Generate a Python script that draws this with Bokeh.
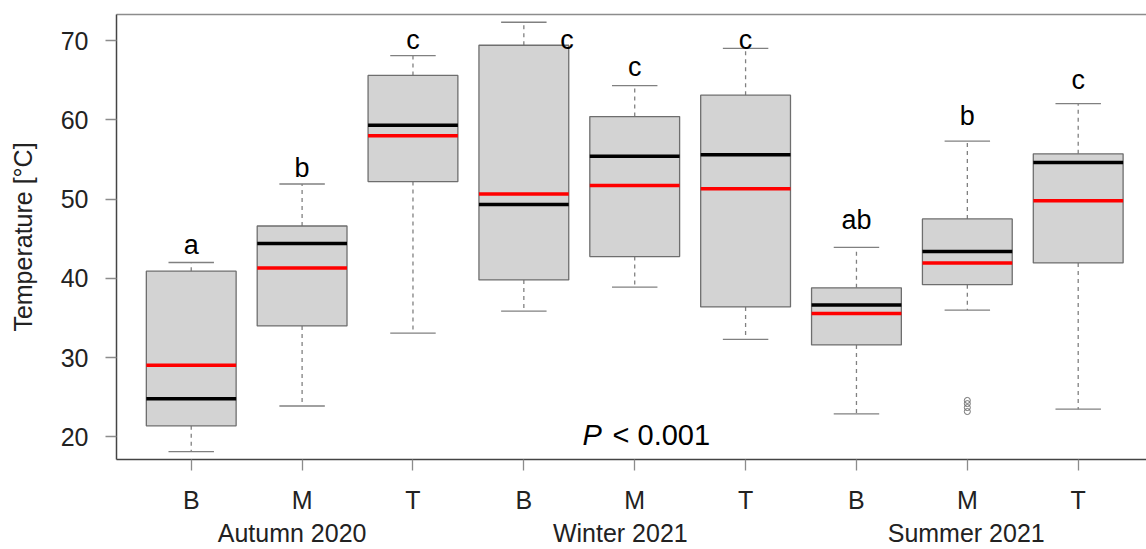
from bokeh.plotting import figure
from bokeh.models import Range1d, LinearAxis, FixedTicker, ColumnDataSource, Label
from bokeh.core.properties import value
from bokeh.embed import file_html
from bokeh.resources import INLINE

# ---- data ----
positions = [1, 2, 3, 4, 5, 6, 7, 8, 9]
site_labels = ["B", "M", "T", "B", "M", "T", "B", "M", "T"]
season_labels = ["Autumn 2020", "Winter 2021", "Summer 2021"]
season_pos = [1.91, 4.87, 7.99]

whisker_low = [18.15, 23.9, 33.1, 35.86, 38.9, 32.3, 22.9, 36.0, 23.5]
q1 = [21.4, 34.0, 52.2, 39.8, 42.75, 36.4, 31.6, 39.2, 41.95]
median = [24.8, 44.4, 59.3, 49.3, 55.4, 55.6, 36.65, 43.4, 54.6]
mean = [29.05, 41.3, 58.0, 50.65, 51.7, 51.3, 35.55, 41.95, 49.8]
q3 = [40.9, 46.6, 65.6, 69.4, 60.4, 63.1, 38.8, 47.5, 55.7]
whisker_high = [42.0, 51.9, 68.1, 72.3, 64.3, 69.0, 43.9, 57.3, 62.05]

letters = ["a", "b", "c", "c", "c", "c", "ab", "b", "c"]
letter_x = [1, 2, 3, 4.39, 5, 6, 7, 8, 9]
letter_y = [44.2, 53.9, 70.1, 70.1, 66.7, 70.1, 47.3, 60.5, 65.0]

outlier_x = [8, 8, 8, 8]
outlier_y = [24.6, 24.2, 23.7, 23.2]

y_ticks = [20, 30, 40, 50, 60, 70]

BOX_W = 0.81
CAP_W = 0.41
FONT = "Liberation Sans"

p = figure(width=1146, height=549, output_backend="svg", toolbar_location=None,
           x_range=Range1d(0.326, 9.616), y_range=Range1d(17.15, 73.28),
           min_border_left=116, min_border_top=14, min_border_right=0, min_border_bottom=90)
p.outline_line_color = None
p.grid.visible = False
p.background_fill_color = "white"

src = ColumnDataSource(dict(
    x=positions, lo=whisker_low, q1=q1, med=median, mean=mean, q3=q3, hi=whisker_high,
    xl=[x - BOX_W / 2 for x in positions], xr=[x + BOX_W / 2 for x in positions],
    cl=[x - CAP_W / 2 for x in positions], cr=[x + CAP_W / 2 for x in positions],
))

# whiskers (dashed)
p.segment(x0="x", y0="q3", x1="x", y1="hi", source=src, line_color="#808080",
          line_width=1.3, line_dash="4 4")
p.segment(x0="x", y0="q1", x1="x", y1="lo", source=src, line_color="#808080",
          line_width=1.3, line_dash="4 4")
# caps
p.segment(x0="cl", y0="hi", x1="cr", y1="hi", source=src, line_color="#808080", line_width=1.3)
p.segment(x0="cl", y0="lo", x1="cr", y1="lo", source=src, line_color="#808080", line_width=1.3)
# boxes
p.vbar(x="x", width=BOX_W, top="q3", bottom="q1", source=src,
       fill_color="#D3D3D3", line_color="#6E6E6E", line_width=1.3)
# median and mean
p.segment(x0="xl", y0="med", x1="xr", y1="med", source=src, line_color="black", line_width=3.5)
p.segment(x0="xl", y0="mean", x1="xr", y1="mean", source=src, line_color="#FF0000", line_width=3.5)

# outliers
p.scatter(outlier_x, outlier_y, marker="circle", size=6, fill_color=None,
          line_color="#707070", line_width=1)

# letters
p.text(x=letter_x, y=letter_y, text=letters, text_font=value(FONT), text_font_size="27px",
       text_align="center", text_baseline="alphabetic", text_color="black")

# P value (italic P)
p.add_layout(Label(x=4.529, y=20.2, text="P", text_font=FONT, text_font_size="29px",
                   text_font_style="italic", text_align="left", text_baseline="alphabetic",
                   text_color="black"))
p.add_layout(Label(x=4.80, y=20.2, text="< 0.001", text_font=FONT, text_font_size="29px",
                   text_align="left", text_baseline="alphabetic", text_color="black"))

# left axis
ya = p.yaxis[0]
ya.ticker = FixedTicker(ticks=y_ticks)
ya.axis_label = "Temperature [°C]"
ya.axis_label_text_font = FONT
ya.axis_label_text_font_size = "25px"
ya.axis_label_text_font_style = "normal"
ya.axis_label_text_color = "#222222"
ya.axis_label_standoff = 21
ya.major_label_text_font = FONT
ya.major_label_text_font_size = "25px"
ya.major_label_text_color = "#222222"
ya.major_label_standoff = 17
ya.major_label_orientation = "horizontal"
ya.major_tick_out = 11
ya.major_tick_in = 0
ya.minor_tick_line_color = None
ya.major_tick_line_color = "#8C8C8C"
ya.major_tick_line_width = 1.3
ya.axis_line_color = "#444444"
ya.axis_line_width = 1.5

# bottom axis (sites)
xa = p.xaxis[0]
xa.ticker = FixedTicker(ticks=positions)
xa.major_label_overrides = {pos: lab for pos, lab in zip(positions, site_labels)}
xa.major_label_text_font = FONT
xa.major_label_text_font_size = "25px"
xa.major_label_text_color = "#222222"
xa.major_label_standoff = 15
xa.major_tick_out = 11
xa.major_tick_in = 0
xa.minor_tick_line_color = None
xa.major_tick_line_color = "#8C8C8C"
xa.major_tick_line_width = 1.3
xa.axis_line_color = "#444444"
xa.axis_line_width = 1.5

# second bottom axis (seasons)
xa2 = LinearAxis(ticker=FixedTicker(ticks=season_pos),
                 major_label_overrides={pos: lab for pos, lab in zip(season_pos, season_labels)})
xa2.major_label_text_font = FONT
xa2.major_label_text_font_size = "25px"
xa2.major_label_text_color = "#222222"
xa2.major_label_standoff = 2
xa2.major_tick_out = 0
xa2.major_tick_in = 0
xa2.major_tick_line_color = None
xa2.minor_tick_line_color = None
xa2.axis_line_color = None
p.add_layout(xa2, "below")

# top frame line
xa3 = LinearAxis(ticker=FixedTicker(ticks=[]))
xa3.major_tick_line_color = None
xa3.minor_tick_line_color = None
xa3.major_label_text_font_size = "0px"
xa3.major_tick_out = 0
xa3.major_label_standoff = 0
xa3.axis_line_color = "#8C8C8C"
xa3.axis_line_width = 1.5
p.add_layout(xa3, "above")

open("out.html", "w").write(file_html(p, INLINE))
